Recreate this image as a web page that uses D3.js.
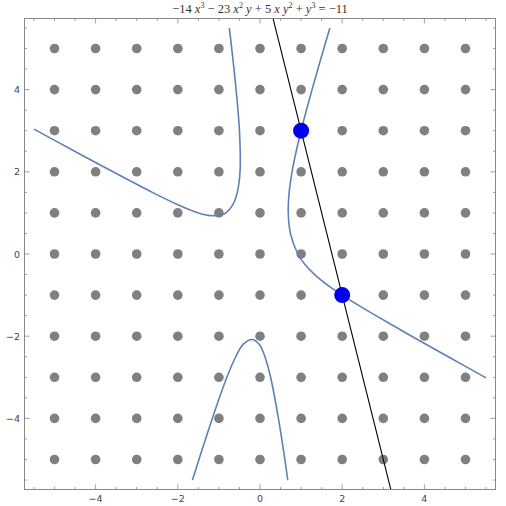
<!DOCTYPE html>
<html><head><meta charset="utf-8">
<script src="https://cdn.jsdelivr.net/npm/d3@7"></script>
<style>body{margin:0;background:#fff}</style>
</head><body>
<svg id="chart" width="506" height="506"></svg>
<script>
// curve branches (data coords)
var branchLeft = [[-5.5,3.039],[-4.51,2.5],[-4,2.225],[-2.62,1.5],[-2,1.2],[-1.5,1],[-1.31,0.95],[-1.12,0.93],
  [-0.94,0.95],[-0.83,1],[-0.66,1.2],[-0.553,1.5],[-0.486,2],[-0.5,3],[-0.582,4],[-0.66,4.75],[-0.746,5.5]];
var branchMid = [[1.7,5.5],[1.48,4.75],[1.267,4],[1.13,3.5],[1,3],[0.881,2.5],[0.78,2],[0.71,1.5],[0.688,1],
  [0.741,0.5],[0.922,0],[1.09,-0.25],[1.33,-0.5],[1.637,-0.75],[2,-1],[2.4,-1.25],[2.82,-1.5],[3.69,-2],[4.58,-2.5],[5.5,-3.013]];
var branchLow = [[-1.644,-5.5],[-1.485,-5],[-1.16,-4],[-0.806,-3],[-0.59,-2.5],[-0.41,-2.2],[-0.2,-2.08],
  [-0.016,-2.2],[0.12,-2.5],[0.258,-3],[0.448,-4],[0.605,-5],[0.675,-5.5]];
var gridVals = [-5,-4,-3,-2,-1,0,1,2,3,4,5];
var bluePoints = [[1,3],[2,-1]];
var linePts = [[0.2,6.2],[3.3,-6.2]];
var tickVals = [-4,-2,0,2,4];

var svg = d3.select("#chart");
var x = d3.scaleLinear().domain([-5.73,5.73]).range([24.5,495.5]);
var y = d3.scaleLinear().domain([-5.73,5.73]).range([489.5,18.5]);

svg.append("clipPath").attr("id","clip").append("rect")
  .attr("x",24.5).attr("y",18.5).attr("width",471).attr("height",471);

var g = svg.append("g").attr("clip-path","url(#clip)");
var pts = [];
gridVals.forEach(function(a){ gridVals.forEach(function(b){ pts.push([a,b]); }); });
g.selectAll("circle.grid").data(pts).enter().append("circle")
  .attr("cx",function(d){return x(d[0]);}).attr("cy",function(d){return y(d[1]);})
  .attr("r",4.8).attr("fill","#808080");

var line = d3.line().x(function(d){return x(d[0]);}).y(function(d){return y(d[1]);}).curve(d3.curveCatmullRom);
[branchLeft,branchMid,branchLow].forEach(function(b){
  g.append("path").attr("d",line(b)).attr("fill","none").attr("stroke","#5e81b5").attr("stroke-width",1.6);
});
g.append("path").attr("d",d3.line().x(function(d){return x(d[0]);}).y(function(d){return y(d[1]);})(linePts))
  .attr("stroke","#000").attr("stroke-width",1.1).attr("fill","none");
g.selectAll("circle.blue").data(bluePoints).enter().append("circle")
  .attr("cx",function(d){return x(d[0]);}).attr("cy",function(d){return y(d[1]);})
  .attr("r",8).attr("fill","#0000ee");

// frame + ticks
svg.append("rect").attr("x",24.5).attr("y",18.5).attr("width",471).attr("height",471)
  .attr("fill","none").attr("stroke","#888").attr("stroke-width",1);
var minor = d3.range(-5.5,5.51,0.5);
var tg = svg.append("g").attr("stroke","#888").attr("stroke-width",0.8);
minor.forEach(function(v){
  var len = (v%2===0) ? 5 : 2.5;
  tg.append("line").attr("x1",x(v)).attr("x2",x(v)).attr("y1",489.5).attr("y2",489.5-len);
  tg.append("line").attr("x1",x(v)).attr("x2",x(v)).attr("y1",18.5).attr("y2",18.5+len);
  tg.append("line").attr("y1",y(v)).attr("y2",y(v)).attr("x1",24.5).attr("x2",24.5+len);
  tg.append("line").attr("y1",y(v)).attr("y2",y(v)).attr("x1",495.5).attr("x2",495.5-len);
});
var fmt = function(v){ return v<0 ? "\u2212"+(-v) : ""+v; };
svg.selectAll("text.xt").data(tickVals).enter().append("text")
  .attr("x",function(d){return x(d);}).attr("y",502).attr("text-anchor","middle")
  .attr("font-family","DejaVu Sans, sans-serif").attr("font-size",9.5).attr("fill","#444").text(fmt);
svg.selectAll("text.yt").data(tickVals).enter().append("text")
  .attr("x",20).attr("y",function(d){return y(d)+3.5;}).attr("text-anchor","end")
  .attr("font-family","DejaVu Sans, sans-serif").attr("font-size",9.5).attr("fill","#444").text(fmt);

var t = svg.append("text").attr("x",260).attr("y",13).attr("text-anchor","middle")
  .attr("font-family","Liberation Serif, serif").attr("font-size",12.5).attr("fill","#333");
var parts = [["\u221214 ",0],["x",1],["3",2],[" \u2212 23 ",0],["x",1],["2",2],[" y",1],[" + 5 ",0],["x",1],[" y",1],["2",2],[" + ",0],["y",1],["3",2],[" = \u221211",0]];
parts.forEach(function(p){
  var s = t.append("tspan").text(p[0]);
  if(p[1]===1) s.attr("font-style","italic");
  if(p[1]===2) s.attr("font-size",8).attr("dy",-5);
  else s.attr("dy",0);
});
// reset baseline after superscripts
t.selectAll("tspan").each(function(d,i){
  var prev = i>0 ? parts[i-1][1] : 0;
  if(parts[i][1]!==2 && prev===2) d3.select(this).attr("dy",5);
});
</script>
</body></html>
